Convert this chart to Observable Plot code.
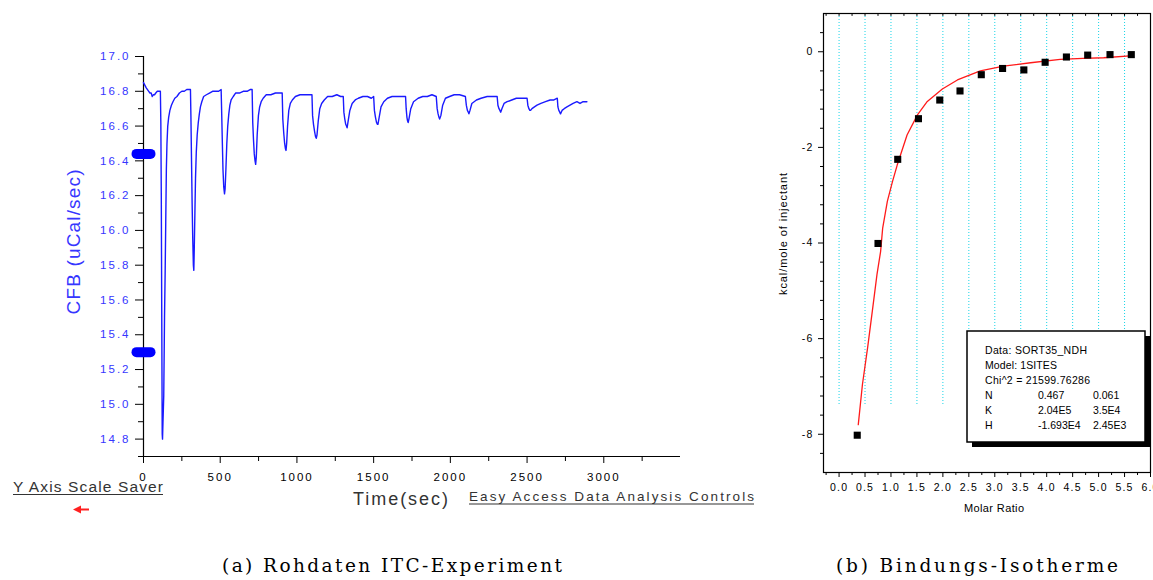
<!DOCTYPE html>
<html>
<head>
<meta charset="utf-8">
<script src="https://cdn.jsdelivr.net/npm/d3@7"></script>
<script src="https://cdn.jsdelivr.net/npm/@observablehq/plot@0.6"></script>
<style>
html, body { margin: 0; padding: 0; background: #fff; }
#root { position: relative; width: 1153px; height: 580px; overflow: hidden; background: #fff; }
.panel { position: absolute; top: 0; }
.panel svg { max-width: none !important; overflow: visible; }
#leftPanel svg text { letter-spacing: 2px; }
#rightPanel svg text { letter-spacing: 1.2px; }
#overlay { position: absolute; left: 0; top: 0; pointer-events: none; }
</style>
</head>
<body>
<div id="root">
  <div id="leftPanel" class="panel" style="left:0px;width:700px;"></div>
  <div id="rightPanel" class="panel" style="left:770px;width:383px;"></div>
</div>
<script>
// ---------------- DATA ----------------
// (a) raw ITC trace: time (sec) and CFB (uCal/sec)
const traceTime = [
  0, 6, 12, 18, 26, 34, 42, 50, 57, 64, 72, 80, 90, 100, 110,
  113, 116, 119, 122, 124, 127, 132, 137, 141, 145, 149, 153, 158, 164, 172, 182, 192, 204, 218, 234, 250, 266, 282, 296, 306,
  309, 313, 317, 321, 325, 328, 331, 335, 339, 344, 350, 357, 364, 371, 380, 392, 410, 430, 450, 470, 490, 506,
  510, 514, 518, 523, 528, 532, 537, 543, 549, 556, 563, 571, 585, 600, 625, 650, 675, 695, 708,
  712, 717, 722, 727, 731, 735, 741, 749, 757, 767, 780, 800, 830, 860, 885, 904,
  908, 914, 920, 925, 929, 933, 939, 947, 957, 970, 990, 1020, 1050, 1075, 1098,
  1102, 1108, 1115, 1121, 1126, 1131, 1139, 1149, 1161, 1178, 1200, 1230, 1260, 1285, 1302,
  1306, 1312, 1318, 1323, 1327, 1334, 1345, 1360, 1380, 1400, 1430, 1460, 1485, 1500,
  1505, 1512, 1519, 1524, 1528, 1536, 1548, 1566, 1590, 1620, 1655, 1685, 1708,
  1712, 1717, 1721, 1725, 1730, 1742, 1760, 1790, 1820, 1850, 1880, 1908,
  1914, 1920, 1926, 1930, 1938, 1950, 1968, 1995, 2025, 2060, 2098,
  2104, 2111, 2117, 2121, 2128, 2140, 2170, 2200, 2240, 2275, 2305,
  2310, 2317, 2323, 2328, 2336, 2350, 2370, 2400, 2430, 2465, 2500,
  2505, 2512, 2518, 2523, 2532, 2548, 2565, 2590, 2620, 2650, 2675, 2697,
  2701, 2707, 2713, 2718, 2728, 2742, 2760, 2780, 2800, 2825, 2845, 2865, 2890
];
const traceCFB = [
  16.85, 16.84, 16.83, 16.82, 16.81, 16.80, 16.79, 16.79, 16.77, 16.78, 16.78, 16.79, 16.80, 16.80, 16.80,
  16.62, 16.20, 15.50, 14.83, 14.80, 14.90, 15.05, 15.50, 15.75, 16.05, 16.35, 16.50, 16.60, 16.65, 16.69, 16.72, 16.74, 16.76, 16.77, 16.79, 16.80, 16.80, 16.81, 16.81, 16.81,
  16.66, 16.40, 16.15, 15.95, 15.80, 15.77, 15.90, 16.10, 16.30, 16.45, 16.55, 16.62, 16.67, 16.71, 16.74, 16.77, 16.78, 16.79, 16.80, 16.80, 16.80, 16.81,
  16.66, 16.50, 16.35, 16.25, 16.21, 16.24, 16.35, 16.50, 16.60, 16.67, 16.72, 16.75, 16.77, 16.79, 16.79, 16.80, 16.80, 16.81, 16.81,
  16.62, 16.52, 16.44, 16.40, 16.38, 16.42, 16.55, 16.66, 16.71, 16.74, 16.76, 16.78, 16.78, 16.79, 16.79, 16.79,
  16.64, 16.56, 16.50, 16.47, 16.46, 16.50, 16.60, 16.69, 16.73, 16.75, 16.77, 16.78, 16.78, 16.78, 16.78,
  16.66, 16.61, 16.57, 16.54, 16.53, 16.55, 16.63, 16.70, 16.73, 16.75, 16.77, 16.77, 16.78, 16.77, 16.77,
  16.68, 16.64, 16.61, 16.60, 16.59, 16.63, 16.69, 16.73, 16.75, 16.76, 16.77, 16.77, 16.76, 16.77,
  16.69, 16.65, 16.62, 16.61, 16.61, 16.65, 16.71, 16.74, 16.76, 16.77, 16.77, 16.77, 16.77,
  16.70, 16.65, 16.63, 16.62, 16.64, 16.70, 16.74, 16.76, 16.77, 16.77, 16.78, 16.77,
  16.70, 16.67, 16.65, 16.64, 16.66, 16.72, 16.76, 16.77, 16.78, 16.78, 16.77,
  16.72, 16.69, 16.68, 16.67, 16.69, 16.73, 16.75, 16.76, 16.77, 16.77, 16.77,
  16.72, 16.70, 16.69, 16.68, 16.70, 16.73, 16.74, 16.75, 16.76, 16.76, 16.76,
  16.72, 16.70, 16.69, 16.69, 16.70, 16.71, 16.72, 16.73, 16.74, 16.75, 16.75, 16.76,
  16.71, 16.69, 16.68, 16.67, 16.69, 16.70, 16.71, 16.72, 16.73, 16.74, 16.73, 16.74, 16.74
];
// y-axis-scale-saver handles (CFB values)
const handleCFB = [16.44, 15.30];
// left axes tick values
const leftYTicks = [14.8, 15.0, 15.2, 15.4, 15.6, 15.8, 16.0, 16.2, 16.4, 16.6, 16.8, 17.0];
const leftYMinor = [14.7, 14.9, 15.1, 15.3, 15.5, 15.7, 15.9, 16.1, 16.3, 16.5, 16.7, 16.9];
const leftXTicks = [0, 500, 1000, 1500, 2000, 2500, 3000];
const leftXMinor = [250, 750, 1250, 1750, 2250, 2750, 3250];

// (b) binding isotherm: integrated heats
const molarRatio = [0.35, 0.75, 1.13, 1.53, 1.94, 2.33, 2.74, 3.15, 3.56, 3.97, 4.38, 4.79, 5.22, 5.63];
const heatPerMole = [-8.02, -4.01, -2.25, -1.40, -1.01, -0.82, -0.48, -0.35, -0.38, -0.22, -0.11, -0.07, -0.06, -0.06];
// fitted one-site curve
const fitRatio = [0.37, 0.45, 0.55, 0.64, 0.73, 0.80, 0.84, 0.93, 1.03, 1.12, 1.31, 1.51, 1.70, 1.99, 2.28, 2.72, 3.17, 3.69, 4.26, 4.70, 5.10, 5.67];
const fitHeat  = [-7.80, -6.96, -6.19, -5.43, -4.66, -4.18, -3.69, -3.13, -2.71, -2.37, -1.74, -1.32, -1.04, -0.78, -0.59, -0.40, -0.30, -0.23, -0.16, -0.14, -0.125, -0.08];
// right axes tick values
const rightXTicks = [0.0, 0.5, 1.0, 1.5, 2.0, 2.5, 3.0, 3.5, 4.0, 4.5, 5.0, 5.5, 6.0];
const rightXMinor = [-0.25, 0.25, 0.75, 1.25, 1.75, 2.25, 2.75, 3.25, 3.75, 4.25, 4.75, 5.25, 5.75];
const rightXAll = [-0.25, 0, 0.25, 0.5, 0.75, 1, 1.25, 1.5, 1.75, 2, 2.25, 2.5, 2.75, 3, 3.25, 3.5, 3.75, 4, 4.25, 4.5, 4.75, 5, 5.25, 5.5, 5.75, 6];
const rightYTicks = [0, -2, -4, -6, -8];
const rightYMinor = [0.4, -0.4, -0.8, -1.2, -1.6, -2.4, -2.8, -3.2, -3.6, -4.4, -4.8, -5.2, -5.6, -6.4, -6.8, -7.2, -7.6, -8.4];
const gridRatio = [0, 0.5, 1, 1.5, 2, 2.5, 3, 3.5, 4, 4.5, 5, 5.5, 6];
const gridTop = 0.8, gridBottom = -7.4;

// fit results legend
const legendLines = ["Data: SORT35_NDH", "Model: 1SITES", "Chi^2 = 21599.76286"];
const legendParams = ["N", "K", "H"];
const legendValues = ["0.467", "2.04E5", "-1.693E4"];
const legendErrors = ["0.061", "3.5E4", "2.45E3"];

// ---------------- CHARTS ----------------
const BLUE = "#1a1aff";
const LABEL_BLUE = "#3636ff";
const trace = traceTime.map((t, i) => ({t, v: traceCFB[i]}));
const points = molarRatio.map((m, i) => ({m, h: heatPerMole[i]}));
const fit = fitRatio.map((m, i) => ({m, h: fitHeat[i]}));

// stadium-shaped handle symbol
const stadium = {
  draw(ctx) {
    const w = 12, h = 5;
    ctx.moveTo(-w + h, -h);
    ctx.lineTo(w - h, -h);
    ctx.arc(w - h, 0, h, -Math.PI / 2, Math.PI / 2);
    ctx.lineTo(-w + h, h);
    ctx.arc(-w + h, 0, h, Math.PI / 2, 3 * Math.PI / 2);
    ctx.closePath();
  }
};

const left = Plot.plot({
  width: 700, height: 520,
  marginLeft: 143, marginRight: 20, marginTop: 56, marginBottom: 64,
  style: {fontFamily: "'Liberation Sans', Arial, sans-serif", fontSize: "11.5px", background: "transparent", overflow: "visible"},
  x: {domain: [0, 3500]},
  y: {domain: [14.7, 17.0]},
  marks: [
    Plot.axisY(leftYMinor, {tickSize: 5, tickFormat: () => "", stroke: "black", label: null}),
    Plot.axisY(leftYTicks, {tickSize: 8, tickPadding: 5, tickFormat: d => d.toFixed(1), stroke: "black", fill: LABEL_BLUE, fontSize: 11.5, label: null}),
    Plot.axisX(leftXMinor, {tickSize: 5, tickFormat: () => "", stroke: "black", label: null}),
    Plot.axisX(leftXTicks, {tickSize: 7, tickPadding: 9, tickFormat: d => String(d), stroke: "black", fill: "black", fontSize: 11.5, label: null}),
    Plot.ruleX([0], {stroke: "black", strokeWidth: 1.2}),
    Plot.ruleY([14.7], {stroke: "black", strokeWidth: 1.2}),
    Plot.line(trace, {x: "t", y: "v", stroke: BLUE, strokeWidth: 1.4}),
    Plot.dot(handleCFB, {x: () => 0, y: d => d, symbol: stadium, fill: "#0000ff", stroke: "none"})
  ]
});
document.getElementById("leftPanel").appendChild(left);

const right = Plot.plot({
  width: 383, height: 520,
  marginLeft: 53, marginRight: 3, marginTop: 13, marginBottom: 48,
  style: {fontFamily: "'Liberation Sans', Arial, sans-serif", fontSize: "10.5px", background: "transparent", overflow: "visible"},
  x: {domain: [-0.3, 6.0]},
  y: {domain: [-8.8, 0.8]},
  marks: [
    Plot.ruleX(gridRatio, {x: d => d, y1: gridTop, y2: gridBottom, stroke: "#18d4e8", strokeWidth: 1, strokeDasharray: "1,2"}),
    Plot.frame({stroke: "black", strokeWidth: 1.2}),
    Plot.axisY(rightYMinor, {tickSize: 3, tickFormat: () => "", stroke: "black", label: null}),
    Plot.axisY(rightYTicks, {tickSize: 5, tickPadding: 5, tickFormat: d => String(d), stroke: "black", fill: "black", fontSize: 10.5, label: null}),
    Plot.axisX(rightXMinor, {tickSize: 3, tickFormat: () => "", stroke: "black", label: null}),
    Plot.axisX(rightXTicks, {tickSize: 5, tickPadding: 6, tickFormat: d => d.toFixed(1), stroke: "black", fill: "black", fontSize: 10.5, label: null}),
    Plot.ruleX(rightXAll, {x: d => d, y1: 0.8, y2: 0.74, stroke: "black"}),
    Plot.line(fit, {x: "m", y: "h", stroke: "#ff1a1a", strokeWidth: 1.3}),
    Plot.dot(points, {x: "m", y: "h", symbol: "square", r: 4, fill: "black", stroke: "none"})
  ]
});
document.getElementById("rightPanel").appendChild(right);

// ---------------- ANNOTATIONS OVERLAY ----------------
const svg = d3.select("#root").append("svg")
  .attr("id", "overlay").attr("width", 1153).attr("height", 580);

function label(s, x, y, o) {
  const t = svg.append("text")
    .attr("x", 0).attr("y", 0)
    .attr("transform", `translate(${x},${y})` + (o.rotate ? ` rotate(${o.rotate})` : ""))
    .attr("font-family", o.family || "'Liberation Sans', Arial, sans-serif")
    .attr("font-size", o.size)
    .attr("fill", o.fill || "black")
    .attr("text-anchor", o.anchor || "start")
    .text(s);
  if (o.len) t.attr("textLength", o.len).attr("lengthAdjust", "spacing");
  return t;
}

// left panel texts
label("CFB (uCal/sec)", 80, 242, {size: 19, fill: LABEL_BLUE, anchor: "middle", rotate: -90, len: 145});
label("Time(sec)", 353, 505, {size: 18, fill: "#333", len: 95});
label("Y Axis Scale Saver", 13, 492, {size: 15.5, fill: "#333", len: 150});
svg.append("line").attr("x1", 13).attr("x2", 163).attr("y1", 494.5).attr("y2", 494.5).attr("stroke", "#333").attr("stroke-width", 1.2);
label("Easy Access Data Analysis Controls", 469, 500.5, {size: 13.5, fill: "#333", len: 285});
svg.append("line").attr("x1", 469).attr("x2", 754).attr("y1", 504).attr("y2", 504).attr("stroke", "#333").attr("stroke-width", 1.2);
// red arrow
svg.append("path").attr("d", "M73,509.5 L81,505.5 L81,508.5 L89,508.5 L89,510.5 L81,510.5 L81,513.5 Z").attr("fill", "#ff2020");

// right panel texts
label("kcal/mole of injectant", 787, 234, {size: 11, anchor: "middle", rotate: -90, len: 122});
label("Molar Ratio", 994, 511.5, {size: 11, anchor: "middle", len: 60});

// legend box
svg.append("rect").attr("x", 972).attr("y", 336).attr("width", 178).attr("height", 111).attr("fill", "black");
svg.append("rect").attr("x", 967).attr("y", 331).attr("width", 178).attr("height", 111).attr("fill", "white").attr("stroke", "black").attr("stroke-width", 1.5);
const lw = [102, 72, 105];
legendLines.forEach((s, i) => label(s, 985, 353.5 + i * 15, {size: 10.5, len: lw[i]}));
legendParams.forEach((s, i) => {
  const y = 398.5 + i * 15;
  label(s, 985, y, {size: 10.5});
  label(legendValues[i], 1038, y, {size: 10.5});
  label(legendErrors[i], 1093, y, {size: 10.5});
});

// captions
label("(a) Rohdaten ITC-Experiment", 222, 571.5, {size: 18.5, family: "'DejaVu Serif', 'Liberation Serif', serif", len: 340});
label("(b) Bindungs-Isotherme", 836, 571.5, {size: 18.5, family: "'DejaVu Serif', 'Liberation Serif', serif", len: 282});
</script>
</body>
</html>
